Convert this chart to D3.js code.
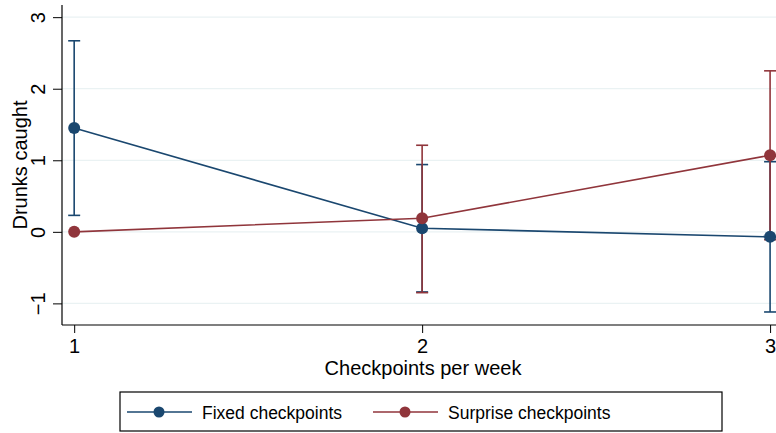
<!DOCTYPE html>
<html>
<head>
  <script src="https://d3js.org/d3.v7.min.js"></script>
  <style>
    body { margin: 0; background: #fff; }
    text { font-family: "Liberation Sans", Arial, sans-serif; fill: #000; }
  </style>
</head>
<body>
<svg id="chart" width="776" height="433"></svg>
<script>
  const checkpoints = [1, 2, 3];
  const fixedMean = [1.45, 0.05, -0.07];
  const fixedLo   = [0.23, -0.84, -1.12];
  const fixedHi   = [2.67, 0.94, 0.98];
  const surpriseMean = [0.0, 0.19, 1.07];
  const surpriseLo   = [0.0, -0.85, -0.11];
  const surpriseHi   = [0.0, 1.21, 2.25];
  const yTicks = [-1, 0, 1, 2, 3];

  const series = [
    { name: "Fixed checkpoints", color: "#1a476f", mean: fixedMean, lo: fixedLo, hi: fixedHi },
    { name: "Surprise checkpoints", color: "#90353b", mean: surpriseMean, lo: surpriseLo, hi: surpriseHi }
  ];

  const svg = d3.select("#chart");
  const plotL = 62, plotR = 776, plotT = 5, plotB = 325;

  const x = d3.scaleLinear().domain([0.965, 3.017]).range([plotL, plotR]);
  const y = d3.scaleLinear().domain([-1.302, 3.17]).range([plotB, plotT]);

  // gridlines
  svg.append("g").selectAll("line").data(yTicks).join("line")
    .attr("x1", plotL).attr("x2", plotR)
    .attr("y1", d => y(d)).attr("y2", d => y(d))
    .attr("stroke", "#eaf2f3").attr("stroke-width", 1.2);

  // y axis
  const yAxis = svg.append("g").attr("transform", `translate(${plotL},0)`)
    .call(d3.axisLeft(y).tickValues(yTicks).tickSize(9).tickPadding(0)
      .tickFormat(d => d < 0 ? "\u2212" + Math.abs(d) : d));
  yAxis.select(".domain").attr("d", `M0,${plotT}V${plotB}`).attr("stroke", "#000").attr("stroke-width", 1.2);
  yAxis.selectAll(".tick line").attr("stroke", "#000");
  yAxis.selectAll(".tick text")
    .attr("transform", "rotate(-90)")
    .attr("x", 0).attr("y", -17)
    .attr("dy", 0)
    .attr("text-anchor", "middle")
    .style("font-size", "20px");

  // x axis
  const xAxis = svg.append("g").attr("transform", `translate(0,${plotB})`)
    .call(d3.axisBottom(x).tickValues(checkpoints).tickSize(8).tickPadding(6).tickFormat(d3.format("d")));
  xAxis.select(".domain").attr("d", `M${plotL},0H${plotR}`).attr("stroke", "#000").attr("stroke-width", 1.2);
  xAxis.selectAll(".tick line").attr("stroke", "#000");
  xAxis.selectAll(".tick text").style("font-size", "20px");

  // axis titles
  svg.append("text").attr("x", (plotL + plotR) / 2 + 4).attr("y", 375)
    .attr("text-anchor", "middle").style("font-size", "20px").text("Checkpoints per week");
  svg.append("text").attr("transform", "translate(27,165) rotate(-90)")
    .attr("text-anchor", "middle").style("font-size", "20px").text("Drunks caught");

  // confidence intervals
  const cap = 6;
  series.forEach(s => {
    const g = svg.append("g");
    checkpoints.forEach((c, i) => {
      if (s.hi[i] === s.lo[i]) return;
      const cx = x(c);
      g.append("line").attr("x1", cx).attr("x2", cx).attr("y1", y(s.lo[i])).attr("y2", y(s.hi[i]))
        .attr("stroke", s.color).attr("stroke-width", 1.6);
      [s.lo[i], s.hi[i]].forEach(v => {
        g.append("line").attr("x1", cx - cap).attr("x2", cx + cap).attr("y1", y(v)).attr("y2", y(v))
          .attr("stroke", s.color).attr("stroke-width", 1.6);
      });
    });
  });

  // lines and markers
  const line = d3.line().x((d, i) => x(checkpoints[i])).y(d => y(d));
  series.forEach(s => {
    svg.append("path").datum(s.mean).attr("d", line)
      .attr("fill", "none").attr("stroke", s.color).attr("stroke-width", 1.6);
    svg.append("g").selectAll("circle").data(s.mean).join("circle")
      .attr("cx", (d, i) => x(checkpoints[i])).attr("cy", d => y(d)).attr("r", 6)
      .attr("fill", s.color);
  });

  // legend
  const legend = svg.append("g");
  legend.append("rect").attr("x", 120).attr("y", 392).attr("width", 602).attr("height", 39)
    .attr("fill", "#fff").attr("stroke", "#000").attr("stroke-width", 1.2);
  const legendX = [127, 373];
  series.forEach((s, i) => {
    const lx = legendX[i], ly = 412;
    legend.append("line").attr("x1", lx).attr("x2", lx + 65).attr("y1", ly).attr("y2", ly)
      .attr("stroke", s.color).attr("stroke-width", 1.6);
    legend.append("circle").attr("cx", lx + 32).attr("cy", ly).attr("r", 5.5).attr("fill", s.color);
    legend.append("text").attr("x", lx + 75).attr("y", ly + 6.5).style("font-size", "17.5px").text(s.name);
  });
</script>
</body>
</html>
